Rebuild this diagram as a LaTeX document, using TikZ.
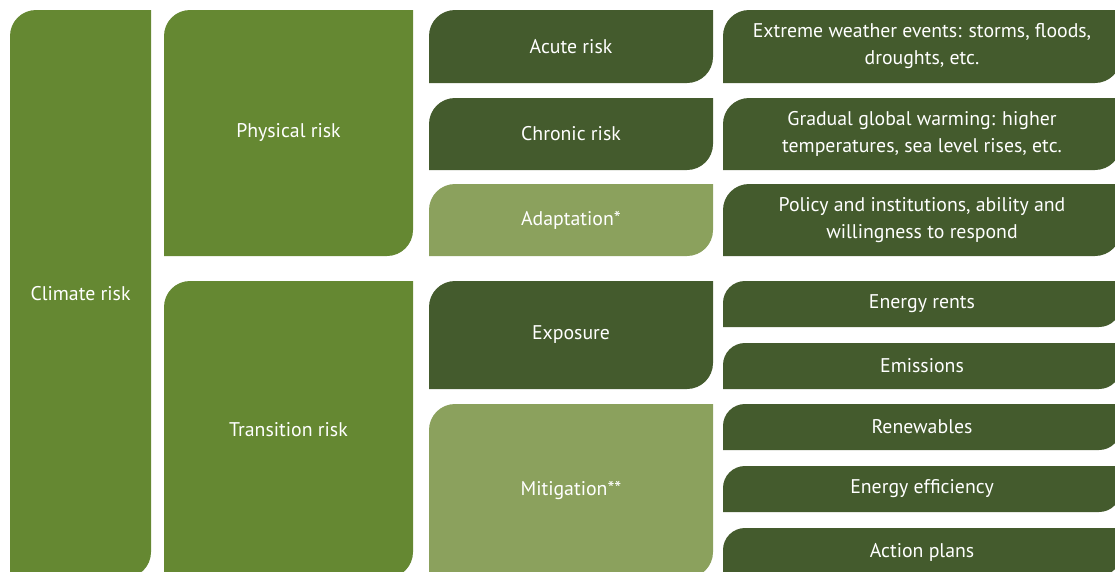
\documentclass[tikz,border=0pt]{standalone}
\usepackage{fontspec}
\setmainfont{PT Sans}
\usepackage{tikz}

\definecolor{midgreen}{HTML}{658832}
\definecolor{darkgreen}{HTML}{445B2D}
\definecolor{lightgreen}{HTML}{8BA15D}

\def\leafr{26pt}
\tikzset{
  leaf/.style={rectangle, inner sep=0pt, text=white, align=center,
    path picture={
      \fill[#1] (path picture bounding box.south west)
        -- ([yshift=-\leafr]path picture bounding box.north west)
        arc[start angle=180, end angle=90, radius=\leafr]
        -- (path picture bounding box.north east)
        -- ([yshift=\leafr]path picture bounding box.south east)
        arc[start angle=0, end angle=-90, radius=\leafr] -- cycle;
    }},
  leaf r/.code={\def\leafr{#1}}
}

\begin{document}
\begin{tikzpicture}[
		x=1pt, y=1pt,
		every node/.style={font=\fontsize{19.8}{27}\selectfont}
	]
  \useasboundingbox (0,0) rectangle (1115,-571);
  \clip (0,0) rectangle (1115,-571);
  \node (climate) [leaf=midgreen, minimum width=141pt, minimum height=568pt] at (80.5,-294) {Climate risk};
  \node (physical) [leaf=midgreen, minimum width=249pt, minimum height=246pt] at (288.5,-133) {Physical risk};
  \node (transition) [leaf=midgreen, minimum width=249pt, minimum height=297pt] at (288.5,-429.5) {Transition risk};
  \node (acute) [leaf=darkgreen, minimum width=284pt, minimum height=73pt] at (571,-46.5) {Acute risk};
  \node (chronic) [leaf=darkgreen, minimum width=284pt, minimum height=72pt] at (571,-134) {Chronic risk};
  \node (adaptation) [leaf=lightgreen, minimum width=284pt, minimum height=72pt] at (571,-220) {Adaptation*};
  \node (exposure) [leaf=darkgreen, minimum width=284pt, minimum height=108pt] at (571,-335) {Exposure};
  \node (mitigation) [leaf=lightgreen, minimum width=284pt, minimum height=174pt] at (571,-491) {Mitigation**};
  \node (extreme) [leaf=darkgreen, minimum width=398pt, minimum height=73pt] at (922,-46.5) {Extreme weather events: storms, floods,\\ droughts, etc.};
  \node (gradual) [leaf=darkgreen, minimum width=398pt, minimum height=72pt] at (922,-134) {Gradual global warming: higher\\ temperatures, sea level rises, etc.};
  \node (policy) [leaf=darkgreen, minimum width=398pt, minimum height=72pt] at (922,-220) {Policy and institutions, ability and\\ willingness to respond};
  \node (rents) [leaf=darkgreen, leaf r=22pt, minimum width=398pt, minimum height=46pt] at (922,-304) {Energy rents};
  \node (emissions) [leaf=darkgreen, leaf r=22pt, minimum width=398pt, minimum height=46pt] at (922,-366) {Emissions};
  \node (renewables) [leaf=darkgreen, leaf r=22pt, minimum width=398pt, minimum height=46pt] at (922,-427) {Renewables};
  \node (efficiency) [leaf=darkgreen, leaf r=22pt, minimum width=398pt, minimum height=46pt] at (922,-489) {Energy efficiency};
  \node (plans) [leaf=darkgreen, leaf r=22pt, minimum width=398pt, minimum height=48pt] at (922,-552) {Action plans};
\end{tikzpicture}
\end{document}
